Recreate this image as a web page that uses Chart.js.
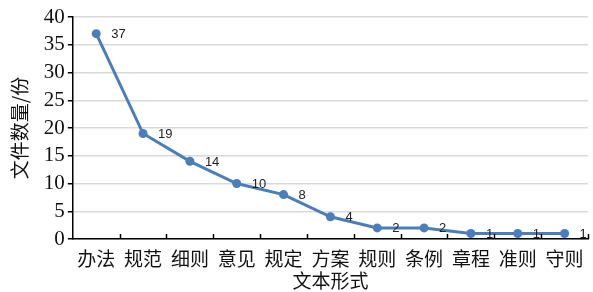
<!DOCTYPE html>
<html>
<head>
<meta charset="utf-8">
<script src="https://cdn.jsdelivr.net/npm/chart.js@4"></script>
<style>
  html, body { margin: 0; padding: 0; background: #fff; }
  #c { display: block; }
</style>
</head>
<body>
<canvas id="c" width="593" height="292"></canvas>
<script>
var categories = ['办法', '规范', '细则', '意见', '规定', '方案', '规则', '条例', '章程', '准则', '守则'];
var counts = [37, 19, 14, 10, 8, 4, 2, 2, 1, 1, 1];
var yTicks = [0, 5, 10, 15, 20, 25, 30, 35, 40];

var cjk = '"Noto Sans CJK SC", "Noto Sans", sans-serif';

// labels next to each point
var pointLabels = {
    id: 'pointLabels',
    afterDatasetsDraw: function (chart) {
        var ctx = chart.ctx;
        var meta = chart.getDatasetMeta(0);
        ctx.save();
        ctx.font = '13px "Liberation Sans", sans-serif';
        ctx.fillStyle = '#222';
        ctx.textBaseline = 'middle';
        meta.data.forEach(function (pt, i) {
            ctx.fillText(String(counts[i]), pt.x + 15, pt.y + 1);
        });
        ctx.restore();
    }
};

// short tick marks on x axis between categories, pointing up
var xTickMarks = {
    id: 'xTickMarks',
    afterDraw: function (chart) {
        var ctx = chart.ctx;
        var x = chart.scales.x;
        var bottom = chart.chartArea.bottom;
        var step = (x.right - x.left) / categories.length;
        ctx.save();
        ctx.strokeStyle = '#000';
        ctx.lineWidth = 1.5;
        ctx.beginPath();
        for (var i = 1; i <= categories.length; i++) {
            var px = Math.round(x.left + step * i) + 0.5;
            ctx.moveTo(px, bottom);
            ctx.lineTo(px, bottom - 5);
        }
        ctx.stroke();
        ctx.restore();
    }
};

new Chart(document.getElementById('c'), {
    type: 'line',
    data: {
        labels: categories,
        datasets: [{
            data: counts,
            borderColor: '#4a7ebb',
            backgroundColor: '#4a7ebb',
            borderWidth: 3,
            pointRadius: 4.5,
            pointBackgroundColor: '#4a7ebb',
            pointBorderWidth: 0,
            tension: 0
        }]
    },
    options: {
        responsive: false,
        animation: false,
        layout: { padding: { top: 17, right: 5, left: 8, bottom: 0 } },
        plugins: {
            legend: { display: false },
            tooltip: { enabled: false }
        },
        scales: {
            x: {
                offset: true,
                afterFit: function (scale) { scale.height = 53; },
                grid: { display: false },
                border: { color: '#000', width: 1.5 },
                ticks: {
                    color: '#111',
                    font: { family: cjk, size: 19 },
                    padding: 0,
                    maxRotation: 0,
                    autoSkip: false
                },
                title: {
                    display: true,
                    text: '文本形式',
                    color: '#111',
                    font: { family: cjk, size: 19 },
                    padding: { top: 0, bottom: 0 }
                }
            },
            y: {
                min: 0,
                max: 40,
                afterBuildTicks: function (scale) {
                    scale.ticks = yTicks.map(function (v) { return { value: v }; });
                },
                grid: {
                    color: '#d9d9d9',
                    lineWidth: 1.5,
                    tickColor: '#000',
                    tickLength: 5
                },
                border: { color: '#000', width: 1.5 },
                ticks: {
                    color: '#111',
                    font: { family: '"Liberation Serif", serif', size: 21 },
                    padding: 3,
                    autoSkip: false,
                    stepSize: 5
                },
                title: {
                    display: true,
                    text: '文件数量/份',
                    color: '#111',
                    font: { family: cjk, size: 19 },
                    padding: { top: 0, bottom: 10 }
                }
            }
        }
    },
    plugins: [pointLabels, xTickMarks]
});
</script>
</body>
</html>
